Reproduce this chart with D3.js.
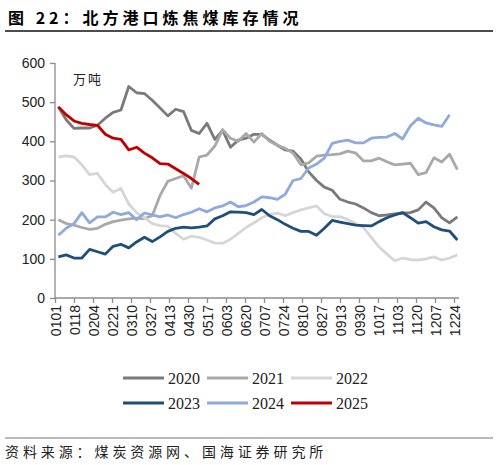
<!DOCTYPE html>
<html>
<head>
<meta charset="utf-8">
<script src="https://cdn.jsdelivr.net/npm/d3@7"></script>
<style>
    body { margin: 0; background: #fff; }
    svg { display: block; }
</style>
</head>
<body>
<svg width="498" height="465"></svg>
<script>
// --- DATA ---
const tickLabels = ['0101', '0118', '0204', '0221', '0310', '0327', '0413', '0430', '0517', '0603', '0620',
    '0707', '0724', '0810', '0827', '0913', '0930', '1017', '1103', '1120', '1207', '1224'];

const weekDates = ['0104', '0111', '0118', '0125', '0201', '0208', '0215', '0222', '0301', '0308', '0315',
    '0322', '0329', '0405', '0412', '0419', '0426', '0503', '0510', '0517', '0524', '0531', '0607', '0614',
    '0621', '0628', '0705', '0712', '0719', '0726', '0802', '0809', '0816', '0823', '0830', '0906', '0913',
    '0920', '0927', '1004', '1011', '1018', '1025', '1101', '1108', '1115', '1122', '1129', '1206', '1213',
    '1220', '1227'];

const years = ['2020', '2021', '2022', '2023', '2024', '2025'];

const v2020 = [488, 455, 433, 434, 434, 441, 459, 474, 480, 540, 524, 522, 505, 485, 465, 482, 476, 428,
    420, 446, 405, 428, 385, 403, 408, 418, 418, 403, 390, 378, 375, 355, 322, 300, 283, 275, 252, 245,
    240, 230, 218, 210, 212, 215, 217, 218, 225, 245, 230, 205, 192, 207];
const v2021 = [200, 190, 186, 180, 175, 178, 188, 195, 199, 202, 204, 203, 210, 262, 298, 305, 312, 280,
    360, 365, 388, 430, 408, 400, 420, 398, 420, 400, 390, 382, 370, 340, 345, 362, 365, 366, 368, 375,
    370, 350, 350, 357, 348, 340, 342, 344, 315, 320, 358, 347, 367, 328];
const v2022 = [360, 363, 360, 340, 315, 318, 290, 270, 280, 240, 218, 205, 190, 185, 183, 165, 150, 158,
    155, 148, 140, 140, 150, 165, 180, 192, 205, 213, 217, 210, 218, 225, 230, 235, 215, 208, 208, 200,
    190, 180, 155, 130, 112, 95, 102, 98, 97, 100, 105, 97, 102, 110];
const v2023 = [105, 110, 102, 102, 124, 118, 112, 132, 137, 128, 143, 155, 144, 156, 170, 178, 181, 179,
    181, 184, 202, 210, 220, 219, 218, 213, 226, 210, 200, 188, 178, 170, 170, 160, 178, 198, 194, 190,
    186, 185, 184, 195, 205, 212, 218, 205, 191, 195, 182, 174, 171, 148];
const v2024 = [160, 178, 190, 218, 192, 207, 207, 219, 213, 218, 200, 217, 212, 207, 212, 205, 213, 219,
    228, 220, 230, 235, 245, 233, 236, 245, 258, 256, 252, 265, 300, 305, 332, 342, 357, 395, 400, 403,
    396, 396, 408, 410, 411, 420, 406, 440, 459, 447, 442, 438, 468];
const v2025 = [488, 468, 452, 446, 443, 441, 418, 408, 405, 378, 385, 370, 358, 343, 342, 330, 318, 305, 290];

const colors = ['#7a7a7a', '#a9a9a9', '#d6d6d6', '#1f4e79', '#8faadc', '#c00000'];
const yTicks = [0, 100, 200, 300, 400, 500, 600];

// --- SETUP ---
const svg = d3.select('svg');
const margin = { left: 55, right: 459, top: 63, bottom: 298 };

const dayOfYear = s => {
    const d = new Date(2023, +s.slice(0, 2) - 1, +s.slice(2));
    return Math.round((d - new Date(2023, 0, 1)) / 864e5);
};

const x = d3.scaleLinear().domain([0, dayOfYear('1224')]).range([55, 454]);
const y = d3.scaleLinear().domain([0, 600]).range([margin.bottom, margin.top]);

// --- TITLE ---
svg.append('text')
    .attr('x', 8)
    .attr('y', 24)
    .attr('font-family', '"Noto Sans CJK SC", sans-serif')
    .attr('font-size', 16)
    .attr('font-weight', 'bold')
    .attr('letter-spacing', 4)
    .attr('fill', '#000')
    .text('图 22：北方港口炼焦煤库存情况');

svg.append('line')
    .attr('x1', 5).attr('x2', 493)
    .attr('y1', 31).attr('y2', 31)
    .attr('stroke', '#111').attr('stroke-width', 1.3);

// --- AXES ---
const yAxis = svg.append('g')
    .attr('transform', `translate(${margin.left},0)`)
    .call(d3.axisLeft(y).tickValues(yTicks).tickSize(5).tickPadding(5));

const xAxis = svg.append('g')
    .attr('transform', `translate(0,${margin.bottom})`)
    .call(d3.axisBottom(x)
        .tickValues(tickLabels.map(dayOfYear))
        .tickFormat((d, i) => tickLabels[i])
        .tickSize(5));

xAxis.select('.domain').attr('d', `M${margin.left},0H${margin.right}`);
yAxis.select('.domain').attr('d', `M0,${margin.top}V${margin.bottom}`);

[xAxis, yAxis].forEach(ax => {
    ax.select('.domain').attr('stroke', '#8c8c8c').attr('stroke-width', 1.3);
    ax.selectAll('.tick line').attr('stroke', '#8c8c8c').attr('stroke-width', 1.3);
    ax.selectAll('text')
        .attr('font-family', '"Liberation Sans", Arial, sans-serif')
        .attr('font-size', 14)
        .attr('fill', '#222');
});

xAxis.selectAll('text')
    .attr('transform', 'rotate(-90)')
    .attr('text-anchor', 'end')
    .attr('x', -7)
    .attr('y', 0)
    .attr('dy', '0.36em');

svg.append('text')
    .attr('x', 73)
    .attr('y', 84)
    .attr('font-family', '"Noto Sans CJK SC", sans-serif')
    .attr('font-size', 13)
    .attr('letter-spacing', 2)
    .attr('fill', '#222')
    .text('万吨');

// --- LINES ---
const seriesValues = [v2020, v2021, v2022, v2023, v2024, v2025];
const line = d3.line()
    .x((d, i) => x(dayOfYear(weekDates[i])))
    .y(d => y(d));

svg.append('g')
    .selectAll('path')
    .data(seriesValues)
    .enter().append('path')
    .attr('d', line)
    .attr('fill', 'none')
    .attr('stroke', (d, i) => colors[i])
    .attr('stroke-width', 2.8)
    .attr('stroke-linejoin', 'round');

// --- LEGEND ---
const legend = svg.append('g');
years.forEach((yr, i) => {
    const lx = 123 + (i % 3) * 84;
    const ly = 378 + Math.floor(i / 3) * 25;
    legend.append('line')
        .attr('x1', lx).attr('x2', lx + 41)
        .attr('y1', ly).attr('y2', ly)
        .attr('stroke', colors[i])
        .attr('stroke-width', 3);
    legend.append('text')
        .attr('x', lx + 45)
        .attr('y', ly + 5.5)
        .attr('font-family', '"Liberation Serif", "Times New Roman", serif')
        .attr('font-size', 16)
        .attr('fill', '#222')
        .text(yr);
});

// --- SOURCE ---
svg.append('line')
    .attr('x1', 5).attr('x2', 493)
    .attr('y1', 438).attr('y2', 438)
    .attr('stroke', '#777').attr('stroke-width', 1.2);

svg.append('text')
    .attr('x', 5)
    .attr('y', 457)
    .attr('font-family', '"Noto Sans CJK SC", sans-serif')
    .attr('font-size', 14)
    .attr('letter-spacing', 3.9)
    .attr('fill', '#222')
    .text('资料来源：煤炭资源网、国海证券研究所');
</script>
</body>
</html>
